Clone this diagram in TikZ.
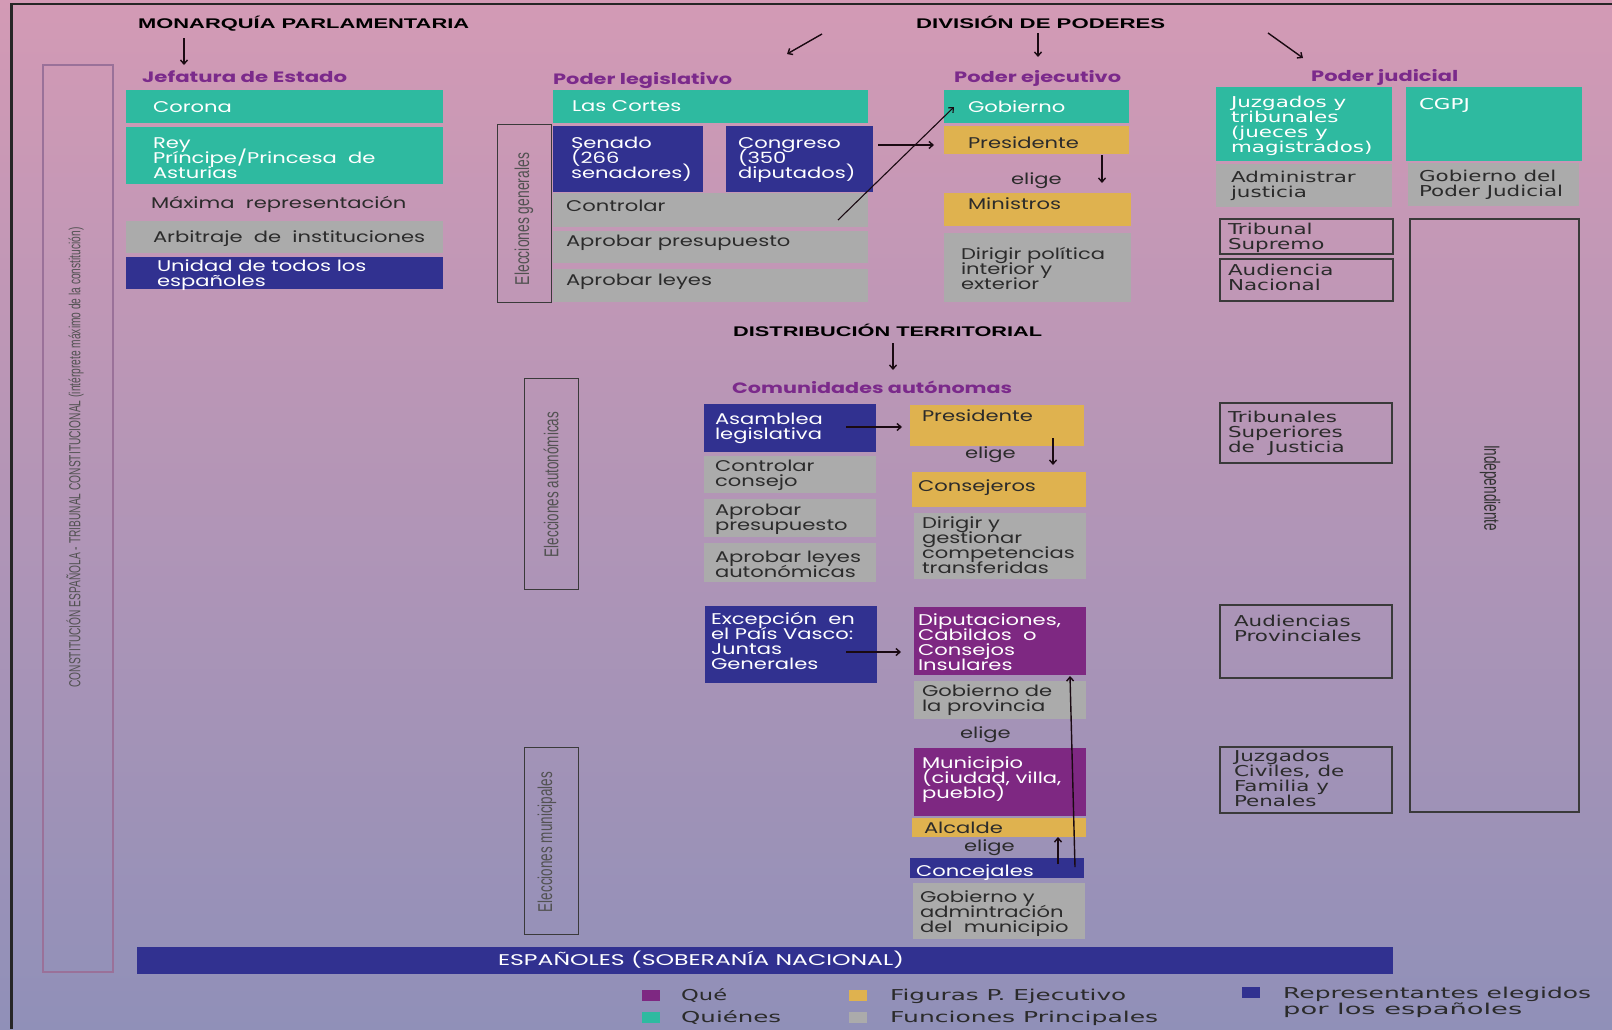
\documentclass[tikz,border=0pt]{standalone}
\usepackage{fontspec}
\usepackage{graphicx}
\usetikzlibrary{arrows.meta,calc}
\setmainfont{Poppins}
\newfontfamily\bxf[FakeStretch=1.36]{Poppins}
\newfontfamily\jdf[FakeStretch=1.43]{DejaVu Sans}
\newfontfamily\hdf{Liberation Sans}
\newfontfamily\dvf{DejaVu Sans}
\definecolor{cteal}{HTML}{2EBAA0}
\definecolor{cblue}{HTML}{313190}
\definecolor{cyel}{HTML}{DFB24F}
\definecolor{cgray}{HTML}{ABABAB}
\definecolor{cpurp}{HTML}{7E2882}
\definecolor{cptxt}{HTML}{7B2A8B}
\definecolor{ctxt}{HTML}{2B2B2B}
\definecolor{cline}{HTML}{3A3A3A}
\definecolor{cconst}{HTML}{9A7199}
\definecolor{carr}{HTML}{1A0A12}
\definecolor{bgtop}{HTML}{D39AB5}
\definecolor{bgmid}{HTML}{B39BC0}
\definecolor{bgbot}{HTML}{9090B8}
\newcommand\fitw[2]{\resizebox{#1pt}{\height}{#2}}
\newcommand\ts{\rule{0pt}{14pt}}
\newcommand\bx[6]{\node[#2,minimum width={#5-#3},minimum height={#6-#4},anchor=north west] (#1) at (#3,#4) {};}
\newcommand\tx[5]{\node[#2,anchor=north west] (#1) at (#3,#4-14) {\ts#5};}
\newcommand\tb[5]{\node[#2,anchor=base west] (#1) at (#3,#4) {#5};}
\tikzset{
  bxs/.style={inner sep=0pt,outer sep=0pt},
  tealb/.style={bxs,fill=cteal},
  blueb/.style={bxs,fill=cblue},
  yelb/.style={bxs,fill=cyel},
  grayb/.style={bxs,fill=cgray},
  purpb/.style={bxs,fill=cpurp},
  outb/.style={bxs,draw=cline,line width=1.3pt},
  elecb/.style={bxs,draw=cline,line width=1pt},
  constb/.style={bxs,draw=cconst,line width=2.2pt},
  ptxt/.style={inner sep=0pt,outer sep=0pt,align=left,font={\bxf\fontsize{15.5}{15}\selectfont\lineskiplimit=-50pt}},
  wt/.style={ptxt,text=white},
  dt/.style={ptxt,text=ctxt},
  jtxt/.style={inner sep=0pt,outer sep=0pt,align=left,font={\jdf\fontsize{15}{15}\selectfont\lineskiplimit=-50pt}},
  wj/.style={jtxt,text=white},
  dj/.style={jtxt,text=ctxt},
  head/.style={inner sep=0pt,text=black,font={\hdf\bfseries\fontsize{14}{14}\selectfont}},
  sub/.style={inner sep=0pt,text=cptxt,font={\bfseries\fontsize{15}{15}\selectfont}},
  rot/.style={inner sep=0pt,text=black!68,font={\hdf\fontsize{20}{20}\selectfont}},
  leg/.style={inner sep=0pt,text=ctxt,font={\dvf\fontsize{15}{15}\selectfont}},
  arr/.style={draw=carr,line width=1.4pt,-{Straight Barb[length=4pt,width=7pt]}}
}
\begin{document}
\begin{tikzpicture}[x=1pt,y=-1pt]
\useasboundingbox (0,0) rectangle (1612,1029);
\shade[top color=bgtop,middle color=bgmid,bottom color=bgbot] (0,0) rectangle (1612,1029);
\draw[line width=2.5pt,draw=black!85] (11.5,1029) -- (11.5,4) -- (1612,4);

% left constitution box
\bx{constbox}{constb}{43}{65}{113}{972}
\node[rot,rotate=90,font={\hdf\fontsize{16}{16}\selectfont}] (constit) at (75,457.5) {\fitw{460}{CONSTITUCIÓN ESPAÑOLA - TRIBUNAL CONSTITUCIONAL (intérprete máximo de la constitución)}};

% headings
\tb{monarq}{head}{138}{28}{\fitw{331}{MONARQUÍA PARLAMENTARIA}}
\tb{divis}{head}{916}{28}{\fitw{249}{DIVISIÓN DE PODERES}}
\tb{distr}{head}{733}{336}{\fitw{309}{DISTRIBUCIÓN TERRITORIAL}}

\tb{jef}{sub}{142}{82}{\fitw{205}{Jefatura de Estado}}
\tb{pleg}{sub}{553}{84}{\fitw{179}{Poder legislativo}}
\tb{pej}{sub}{954}{82}{\fitw{167}{Poder ejecutivo}}
\tb{pjud}{sub}{1311}{81}{\fitw{147}{Poder judicial}}
\tb{comaut}{sub}{732}{393}{\fitw{280}{Comunidades autónomas}}

\coordinate (m1) at (184,38); \coordinate (m2) at (184,65);
\coordinate (d1) at (822,34); \coordinate (d2) at (787,54);
\coordinate (d3) at (1038,33); \coordinate (d4) at (1038,57);
\coordinate (d5) at (1268,33); \coordinate (d6) at (1303,58);
\coordinate (t1) at (893,343); \coordinate (t2) at (893,370);

% Jefatura de Estado
\bx{corona}{tealb}{126}{90}{443}{123}
\tx{coronat}{wt}{153}{112}{Corona}
\bx{rey}{tealb}{126}{127}{443}{184}
\tx{reyt}{wt}{153}{148}{Rey\\Príncipe/Princesa\ \ de\\Asturias}
\tx{maxima}{dt}{151}{208}{Máxima\ \ representación}
\bx{arbitraje}{grayb}{126}{221}{443}{253}
\tx{arbitrajet}{dt}{153}{242}{Arbitraje\ \ de\ \ instituciones}
\bx{unidad}{blueb}{126}{257}{443}{289}
\tx{unidadt}{wt}{157}{271}{Unidad de todos los\\españoles}

% Poder legislativo
\bx{elgen}{elecb}{497}{124}{551.5}{302}
\node[rot,rotate=90] (elgent) at (524,219) {\fitw{132}{Elecciones generales}};
\bx{cortes}{tealb}{553}{90}{868}{123}
\tx{cortest}{wt}{572}{111}{Las Cortes}
\bx{senado}{blueb}{553}{126}{703}{192}
\tx{senadot}{wt}{571}{148}{Senado\\(266\\senadores)}
\bx{congreso}{blueb}{726}{126}{873}{192}
\tx{congresot}{wt}{738}{148}{Congreso\\(350\\diputados)}
\bx{controlar}{grayb}{553}{193}{868}{227}
\tx{controlart}{dt}{566}{211}{Controlar}
\bx{presup}{grayb}{553}{231}{868}{263}
\tx{presupt}{dt}{566}{246}{Aprobar presupuesto}
\bx{leyes}{grayb}{553}{269}{868}{302}
\tx{leyest}{dt}{566}{285}{Aprobar leyes}

% Poder ejecutivo
\bx{gobierno}{tealb}{944}{90}{1129}{123}
\tx{gobiernot}{wt}{968}{112}{Gobierno}
\bx{presidente}{yelb}{944}{126}{1129}{154}
\tx{presidentet}{dt}{968}{148}{Presidente}
\tx{elige1}{dt}{1011}{184}{elige}
\bx{ministros}{yelb}{944}{193}{1131}{226}
\tx{ministrost}{dt}{968}{209}{Ministros}
\bx{dirigir}{grayb}{944}{233}{1131}{302}
\tx{dirigirt}{dt}{961}{259}{Dirigir política\\interior y\\exterior}

% Poder judicial
\bx{juzgados}{tealb}{1216}{87}{1392}{161}
\tx{juzgadost}{wj}{1231}{107}{Juzgados y\\tribunales\\(jueces y\\magistrados)}
\bx{cgpj}{tealb}{1406}{87}{1582}{161}
\tx{cgpjt}{wj}{1419}{109}{CGPJ}
\bx{administrar}{grayb}{1216}{164}{1392}{207}
\tx{administrart}{dj}{1231}{182}{Administrar\\justicia}
\bx{gobpj}{grayb}{1408}{163}{1579}{206}
\tx{gobpjt}{dj}{1419}{181}{Gobierno del\\Poder Judicial}
\bx{supremo}{outb}{1220}{219}{1393}{254}
\tx{supremot}{dj}{1228}{234}{Tribunal\\Supremo}
\bx{audnac}{outb}{1220}{259}{1393}{301}
\tx{audnact}{dj}{1228}{275}{Audiencia\\Nacional}
\bx{tsj}{outb}{1220}{403}{1392}{463}
\tx{tsjt}{dj}{1228}{422}{Tribunales\\Superiores\\de\ \ Justicia}
\bx{audprov}{outb}{1220}{605}{1392}{678}
\tx{audprovt}{dj}{1234}{626}{Audiencias\\Provinciales}
\bx{juzciv}{outb}{1220}{747}{1392}{813}
\tx{juzcivt}{dj}{1234}{761}{Juzgados\\Civiles,\ de\\Familia y\\Penales}
\bx{indep}{outb}{1410}{219}{1579}{812}
\node[rot,rotate=-90,font={\hdf\fontsize{22}{22}\selectfont},text=black!80] (indept) at (1490,488) {\fitw{86}{Independiente}};

% Comunidades autonomas
\bx{elaut}{elecb}{524}{378}{578}{589}
\node[rot,rotate=90] (elautt) at (551,484.5) {\fitw{145}{Elecciones autonómicas}};
\bx{asamblea}{blueb}{704}{404}{876}{452}
\tx{asambleat}{wt}{715}{424}{Asamblea\\legislativa}
\bx{ctrlcons}{grayb}{704}{456}{876}{493}
\tx{ctrlconst}{dt}{715}{471}{Controlar\\consejo}
\bx{apres}{grayb}{704}{499}{876}{537}
\tx{aprest}{dt}{715}{515}{Aprobar\\presupuesto}
\bx{aleyes}{grayb}{704}{543}{876}{582}
\tx{aleyest}{dt}{715}{562}{Aprobar leyes\\autonómicas}
\bx{presca}{yelb}{910}{405}{1084}{446}
\tx{prescat}{dt}{922}{421}{Presidente}
\tx{elige2}{dt}{965}{458}{elige}
\bx{consej}{yelb}{912}{472}{1086}{507}
\tx{consejt}{dt}{918}{491}{Consejeros}
\bx{dirgest}{grayb}{914}{513}{1086}{579}
\tx{dirgestt}{dt}{922}{528}{Dirigir y\\gestionar\\competencias\\transferidas}
\bx{excep}{blueb}{705}{606}{877}{683}
\tx{except}{wt}{711}{624}{Excepción\ \ en\\el País Vasco:\\Juntas\\Generales}
\bx{dipu}{purpb}{914}{607}{1086}{675}
\tx{diput}{wt}{918}{625}{Diputaciones,\\Cabildos\ \ o\\Consejos\\Insulares}
\bx{gobprov}{grayb}{914}{681}{1086}{719}
\tx{gobprovt}{dt}{922}{696}{Gobierno de\\la provincia}
\tx{elige3}{dt}{960}{738}{elige}
\bx{elmun}{elecb}{524}{747}{578}{934}
\node[rot,rotate=90] (elmunt) at (547,842) {\fitw{140}{Elecciones municipales}};
\bx{munic}{purpb}{914}{748}{1086}{816}
\tx{municip}{wt}{922}{768}{Municipio\\(ciudad, villa,\\pueblo)}
\bx{alcalde}{yelb}{912}{818}{1086}{837}
\tx{alcaldet}{dt}{924}{833}{Alcalde}
\tx{elige4}{dt}{964}{851}{elige}
\bx{concej}{blueb}{910}{858}{1084}{878}
\tx{concejt}{wt}{916}{876}{Concejales}
\bx{gobmun}{grayb}{913}{883}{1085}{939}
\tx{gobmunt}{dt}{920}{902}{Gobierno y\\admintración\\del\ \ municipio}

% bottom bar
\bx{espanoles}{blueb}{137}{947}{1393}{974}
\tb{espanolest}{wt}{498}{965}{\fitw{406}{ESPAÑOLES (SOBERANÍA NACIONAL)}}

% legend
\bx{lq}{purpb}{642}{990}{660}{1001}
\tb{lqt}{leg}{681}{1000}{\fitw{46}{Qué}}
\bx{lqn}{tealb}{642}{1012}{660}{1023}
\tb{lqnt}{leg}{681}{1022}{\fitw{100}{Quiénes}}
\bx{lf}{yelb}{849}{990}{867}{1001}
\tb{lft}{leg}{890}{1000}{\fitw{236}{Figuras P. Ejecutivo}}
\bx{lfp}{grayb}{849}{1012}{867}{1023}
\tb{lfpt}{leg}{890}{1022}{\fitw{268}{Funciones Principales}}
\bx{lr}{blueb}{1242}{987}{1260}{998}
\tb{lrt}{leg}{1283}{998}{\fitw{308}{Representantes elegidos}}
\tb{lrt2}{leg}{1283}{1014}{\fitw{239}{por los españoles}}

% arrows
\draw[arr] (m1) -- (m2);
\draw[arr] (d1) -- (d2);
\draw[arr] (d3) -- (d4);
\draw[arr] (d5) -- (d6);
\draw[arr] (t1) -- (t2);
\draw[arr] ($(congreso.east)+(5,-14)$) -- ($(presidente.west)+(-10,5)$);
\draw[arr,line width=1.1pt] ($(controlar.south east)+(-30,-7)$) -- ($(gobierno.west)+(10,0.5)$);
\draw[arr] ($(presidente.south east)+(-27,1)$) -- ($(ministros.north east)+(-29,-10)$);
\draw[arr] ($(asamblea.east)+(-30,-1)$) -- ($(presca.west)+(-8,1.5)$);
\draw[arr] ($(presca.south east)+(-31,-8)$) -- ($(consej.north east)+(-33,-7)$);
\draw[arr] ($(excep.east)+(-31,7.5)$) -- ($(dipu.west)+(-13,11)$);
\draw[arr] ($(concej.north west)+(148,6)$) -- ($(alcalde.south west)+(146,0)$);
\draw[arr] ($(concej.north east)+(-9,9)$) -- ($(dipu.south east)+(-16,1)$);
\end{tikzpicture}
\end{document}
